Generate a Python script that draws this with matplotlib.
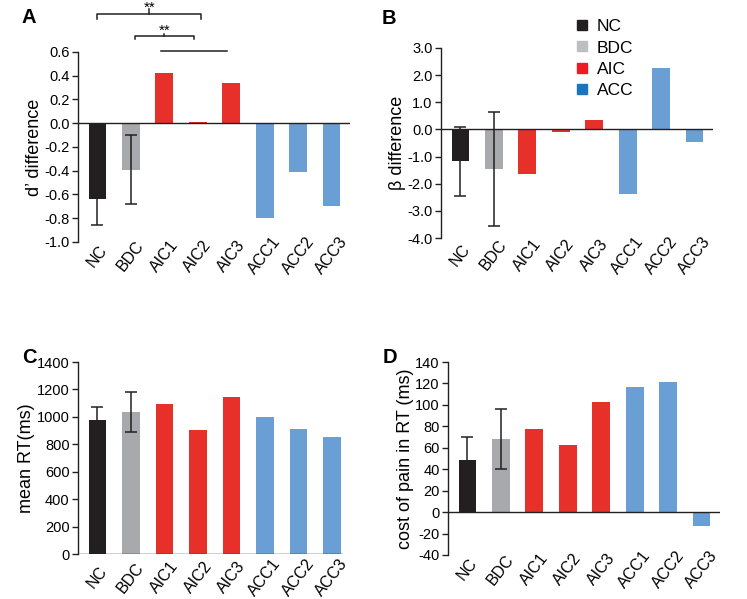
import matplotlib
matplotlib.use("Agg")
import matplotlib.pyplot as plt
from matplotlib.lines import Line2D

plt.rcParams['font.family'] = ['Liberation Sans', 'DejaVu Sans']

groups = ["NC", "BDC", "AIC1", "AIC2", "AIC3", "ACC1", "ACC2", "ACC3"]

d_prime = [-0.64, -0.39, 0.42, 0.01, 0.335, -0.80, -0.41, -0.70]
d_prime_err = [0.22, 0.29]          # NC, BDC only

beta = [-1.18, -1.45, -1.65, -0.08, 0.36, -2.37, 2.27, -0.45]
beta_err = [1.27, 2.09]

mean_rt = [980, 1035, 1092, 902, 1145, 1000, 909, 856]
mean_rt_err = [92, 147]

cost_rt = [49, 68, 77.5, 63, 103, 116.5, 121.5, -13]
cost_rt_err = [21.5, 28]

# colors
c_nc = "#231f20"
c_bdc = "#a7a9ac"
c_aic = "#e8302a"
c_acc = "#699fd4"
bar_colors = [c_nc, c_bdc, c_aic, c_aic, c_aic, c_acc, c_acc, c_acc]
legend_names = ["NC", "BDC", "AIC", "ACC"]
legend_colors = ["#231f20", "#bcbec0", "#ed1c24", "#1b75bc"]

fig = plt.figure(figsize=(7.47, 5.99), dpi=100)
W, H = 747, 599


def make_ax(left, top, right, bottom):
    return fig.add_axes([left / W, 1 - bottom / H, (right - left) / W, (bottom - top) / H])


def draw_panel(ax, vals, errs, ylim, yticks, ylabel, xlim, fmt, xpad):
    x = list(range(len(vals)))
    ax.bar(x, vals, width=0.53, color=bar_colors, zorder=2)
    ax.errorbar(x[:2], vals[:2], yerr=errs, fmt="none", ecolor="#231f20",
                elinewidth=1.1, capsize=4.5, capthick=1.1, zorder=3)
    ax.axhline(0, color="#231f20", lw=1.0, zorder=4)
    ax.set_xlim(*xlim)
    ax.set_ylim(*ylim)
    ax.set_yticks(yticks)
    ax.set_yticklabels([fmt(v) for v in yticks])
    ax.set_xticks(x)
    ax.set_xticklabels(groups, rotation=52, ha="center", va="center",
                       rotation_mode="anchor", fontsize=11.5)
    ax.tick_params(axis="x", length=0, pad=xpad)
    ax.tick_params(axis="y", length=4, width=1, labelsize=10.5, pad=2,
                   color="#231f20")
    for s in ["top", "right", "bottom"]:
        ax.spines[s].set_visible(False)
    ax.spines["left"].set_color("#231f20")
    ax.spines["left"].set_linewidth(1.0)
    ax.set_ylabel(ylabel, fontsize=13, labelpad=1)


def f1(v):
    return f"{v:.1f}"


def f0(v):
    return f"{v:.0f}"


# A
axA = make_ax(78, 52, 350, 242)
draw_panel(axA, d_prime, d_prime_err, (-1.0, 0.6),
           [0.6, 0.4, 0.2, 0.0, -0.2, -0.4, -0.6, -0.8, -1.0],
           "d\u2019 difference", (-0.58, 7.55), f1, 10)

# significance brackets
k = dict(color="#231f20", lw=1.1, clip_on=False, zorder=5)
axA.plot([0.0, 0.0, 3.11, 3.11], [0.876, 0.918, 0.918, 0.876], **k)
axA.plot([1.55, 1.55], [0.918, 0.965], **k)
axA.text(1.55, 0.935, "**", ha="center", va="baseline", fontsize=11)
axA.plot([1.13, 1.13, 2.89, 2.89], [0.707, 0.733, 0.733, 0.707], **k)
axA.plot([2.0, 2.0], [0.733, 0.755], **k)
axA.text(2.0, 0.745, "**", ha="center", va="baseline", fontsize=11)
axA.plot([1.9, 3.87], [0.606, 0.606], **k)

# B
axB = make_ax(441, 48, 713, 238)
draw_panel(axB, beta, beta_err, (-4.0, 3.0),
           [3.0, 2.0, 1.0, 0.0, -1.0, -2.0, -3.0, -4.0],
           "\u03b2 difference", (-0.58, 7.55), f1, 12.5)
handles = [Line2D([], [], marker="s", linestyle="none", markersize=7.5,
                  markerfacecolor=c, markeredgecolor=c) for c in legend_colors]
axB.legend(handles, legend_names, loc="upper left", frameon=False,
           bbox_to_anchor=(575 / W, 1 - 19 / H), bbox_transform=fig.transFigure,
           fontsize=12.5, handlelength=0.8, handletextpad=0.47, labelspacing=0.36,
           borderpad=0, borderaxespad=0)

# C
axC = make_ax(78, 362, 343, 554)
draw_panel(axC, mean_rt, mean_rt_err, (0, 1400),
           [0, 200, 400, 600, 800, 1000, 1200, 1400],
           "mean RT(ms)", (-0.58, 7.33), f0, 17)

# D
axD = make_ax(448, 362, 720, 555)
draw_panel(axD, cost_rt, cost_rt_err, (-40, 140),
           [140, 120, 100, 80, 60, 40, 20, 0, -20, -40],
           "cost of pain in RT (ms)", (-0.58, 7.55), f0, 10.5)

# panel letters
for lab, px, py in [("A", 21, 23), ("B", 382, 24), ("C", 22, 363), ("D", 383, 363)]:
    fig.text(px / W, 1 - py / H, lab, fontsize=14.5, fontweight="bold",
             ha="left", va="baseline")

fig.savefig("out.png", dpi=100)
